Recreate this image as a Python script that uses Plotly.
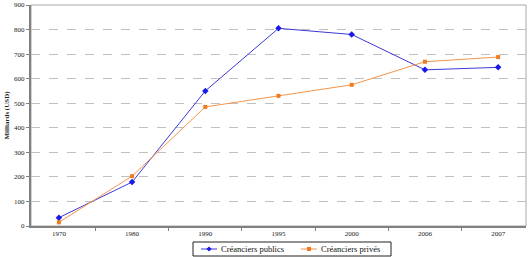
import plotly.graph_objects as go

years = ["1970", "1980", "1990", "1995", "2000", "2006", "2007"]
publics = [34, 179, 550, 805, 780, 636, 646]
prives = [15, 203, 485, 530, 575, 669, 688]
y_ticks = [0, 100, 200, 300, 400, 500, 600, 700, 800, 900]
series_names = ["Créanciers publics", "Créanciers privés"]

W, H = 531, 257
ML, MR, MT, MB = 31, 5, 5, 31
PW, PH = W - ML - MR, H - MT - MB


def px(x):
    return (x - ML) / PW


def py(y):
    return (H - MB - y) / PH


BLUE_LINE, BLUE_MK = "#3a3ad6", "#1a1ae6"
ORANGE_LINE, ORANGE_MK = "#f5954a", "#f07a20"

fig = go.Figure()
fig.add_trace(go.Scatter(
    x=years, y=publics, name=series_names[0], mode="lines+markers",
    line=dict(color=BLUE_LINE, width=1),
    marker=dict(symbol="diamond", size=5, color=BLUE_MK),
))
fig.add_trace(go.Scatter(
    x=years, y=prives, name=series_names[1], mode="lines+markers",
    line=dict(color=ORANGE_LINE, width=1),
    marker=dict(symbol="square", size=4, color=ORANGE_MK),
))

# custom compact legend
ly = 249
shapes = [
    dict(type="rect", xref="paper", yref="paper", x0=0, x1=1, y0=0, y1=1,
         line=dict(color="#a8a8a8", width=1), layer="below"),
    dict(type="rect", xref="paper", yref="paper", x0=px(193), x1=px(391),
         y0=py(256), y1=py(242), line=dict(color="#222", width=1), fillcolor="white"),
    dict(type="line", xref="paper", yref="paper", x0=px(201), x1=px(217),
         y0=py(ly), y1=py(ly), line=dict(color=BLUE_LINE, width=1)),
    dict(type="path", xref="paper", yref="paper",
         path=f"M {px(209)},{py(ly-2.6)} L {px(211.6)},{py(ly)} L {px(209)},{py(ly+2.6)} L {px(206.4)},{py(ly)} Z",
         line=dict(width=0), fillcolor=BLUE_MK),
    dict(type="line", xref="paper", yref="paper", x0=px(301), x1=px(317),
         y0=py(ly), y1=py(ly), line=dict(color=ORANGE_LINE, width=1)),
    dict(type="rect", xref="paper", yref="paper", x0=px(307), x1=px(311),
         y0=py(ly + 2), y1=py(ly - 2), line=dict(width=0), fillcolor=ORANGE_MK),
]
annotations = [
    dict(text=series_names[0], xref="paper", yref="paper", x=px(219), y=py(ly),
         xanchor="left", yanchor="middle", showarrow=False,
         font=dict(size=8.5, color="#111")),
    dict(text=series_names[1], xref="paper", yref="paper", x=px(319), y=py(ly),
         xanchor="left", yanchor="middle", showarrow=False,
         font=dict(size=8.5, color="#111")),
]

fig.update_layout(
    width=W, height=H,
    margin=dict(l=ML, r=MR, t=MT, b=MB, autoexpand=False),
    paper_bgcolor="white", plot_bgcolor="white",
    font=dict(family="Times New Roman, Liberation Serif, serif", size=7, color="#222"),
    showlegend=False,
    xaxis=dict(
        type="category", tickson="boundaries", ticks="outside", ticklen=3,
        tickcolor="#808080", showline=True, linecolor="#808080", linewidth=2,
        showgrid=False, tickfont=dict(size=7), fixedrange=True,
    ),
    yaxis=dict(
        range=[0, 900], tickvals=y_ticks, ticks="outside", ticklen=3,
        tickcolor="#808080", showline=True, linecolor="#808080", linewidth=2,
        showgrid=True, gridcolor="#c0c0c0", griddash="dash", gridwidth=1,
        zeroline=False, tickfont=dict(size=7),
        title=dict(text="<b>Milliards (USD)</b>", font=dict(size=7), standoff=4),
    ),
    shapes=shapes,
    annotations=annotations,
)

fig.write_html("out.html")
